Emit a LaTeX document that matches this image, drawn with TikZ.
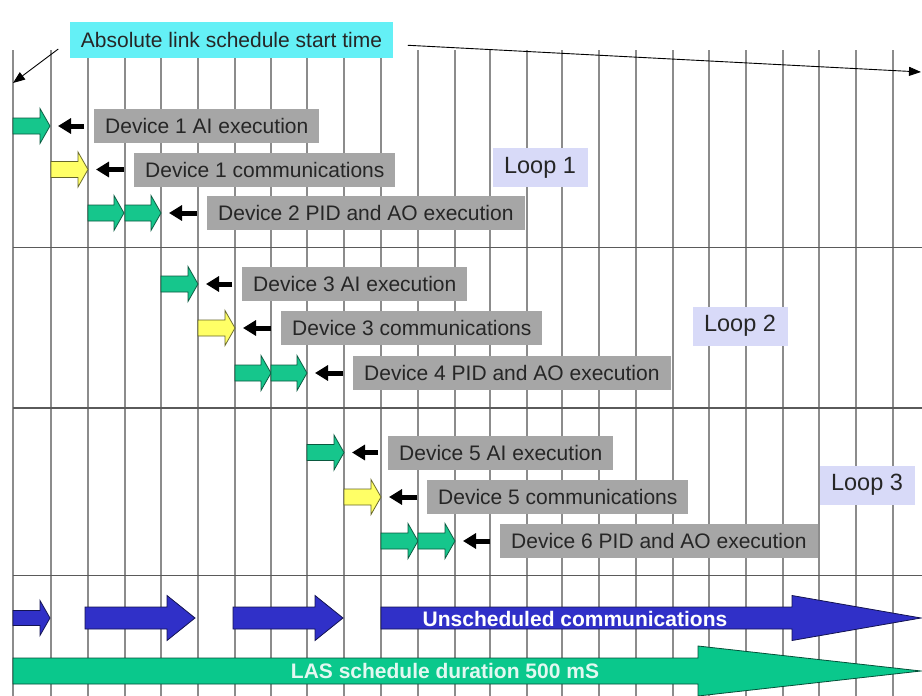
\documentclass[tikz,border=0pt]{standalone}
\usepackage{fontspec}
\setmainfont{Liberation Sans}
\usetikzlibrary{arrows.meta}
\definecolor{execgreen}{RGB}{22,198,140}
\definecolor{commyellow}{RGB}{255,255,102}
\definecolor{busblue}{RGB}{48,48,200}
\definecolor{lasgreen}{RGB}{10,200,140}
\definecolor{labelgray}{RGB}{166,166,166}
\definecolor{looplav}{RGB}{216,218,248}
\definecolor{titlecyan}{RGB}{100,240,246}
\definecolor{gridgray}{RGB}{140,140,140}
\definecolor{bandgray}{RGB}{90,90,90}
% small block arrow: style, tail x, tip x, y, name of tip
\newcommand\slotarrow[5]{%
  \filldraw[#1] (#2,#4-8) -- (#3-10,#4-8) -- (#3-10,#4-17.5) -- (#3,#4)
    -- (#3-10,#4+17.5) -- (#3-10,#4+8) -- (#2,#4+8) -- cycle;
  \coordinate (#5) at (#3,#4);}
% wide block arrow: style, tail x, head x, tip x, y, body half, head half
\newcommand\busarrow[7]{%
  \filldraw[#1] (#2,#5-#6) -- (#3,#5-#6) -- (#3,#5-#7) -- (#4,#5)
    -- (#3,#5+#7) -- (#3,#5+#6) -- (#2,#5+#6) -- cycle;}
\begin{document}
\begin{tikzpicture}[x=1pt,y=-1pt,
  font=\fontsize{21}{24}\selectfont,
  gridline/.style={draw=gridgray,line width=1.2pt},
  bandline/.style={draw=bandgray,line width=1.5pt},
  exec/.style={fill=execgreen,draw=execgreen!45!black,line width=0.8pt},
  comm/.style={fill=commyellow,draw=commyellow!40!black,line width=0.8pt},
  bus/.style={fill=busblue,draw=busblue!40!black,line width=0.8pt},
  las/.style={fill=lasgreen,draw=lasgreen!40!black,line width=0.8pt},
  tasklabel/.style={fill=labelgray,text=black!85,anchor=west,minimum height=34pt,inner xsep=11pt,inner ysep=0pt},
  loopbox/.style={fill=looplav,text=black!85,minimum width=95pt,minimum height=39pt,inner sep=0pt,font=\fontsize{23.5}{26}\selectfont},
  titlebox/.style={fill=titlecyan,text=black!85,minimum height=36pt,inner xsep=10.5pt,inner ysep=0pt},
  bustext/.style={text=white,inner sep=0pt,font=\fontsize{21}{24}\selectfont\bfseries},
  pointer/.style={-{Triangle[length=13pt,width=15pt]},line width=5pt,shorten <=10pt,shorten >=8pt},
  startline/.style={-{Triangle[length=12pt,width=9pt]},line width=0.9pt,shorten <=15pt}]
\useasboundingbox (0,0) rectangle (922,696);
% time slots
\draw[gridline] (13,50) -- (13,696) (51,50) -- (51,696) (88,50) -- (88,696) (125,50) -- (125,696)
  (161,50) -- (161,696) (198,50) -- (198,696) (235,50) -- (235,696) (271,50) -- (271,696)
  (307,50) -- (307,696) (344,50) -- (344,696) (381,50) -- (381,696) (418,50) -- (418,696)
  (455,50) -- (455,696) (490,50) -- (490,696) (527,50) -- (527,696) (562,50) -- (562,696)
  (599,50) -- (599,696) (636,50) -- (636,696) (673,50) -- (673,696) (709,50) -- (709,696)
  (746,50) -- (746,696) (783,50) -- (783,696) (819,50) -- (819,696) (856,50) -- (856,696)
  (893,50) -- (893,696);
\draw[bandline] (13,247.5) -- (922,247.5) (13,408) -- (922,408) (13,575.5) -- (922,575.5);
% start of the link schedule
\node[titlebox] (title) at (231.5,40) {Absolute link schedule start time};
\coordinate (t0) at (13,83);
\coordinate (tend) at (921,72);
\draw[startline] (title.west) -- (t0);
\draw[startline] ([yshift=-4.5pt]title.east) -- (tend);
% loop 1
\slotarrow{exec}{13}{50}{126}{ai1}
\slotarrow{comm}{51}{88}{169.5}{cm1}
\slotarrow{exec}{88}{124}{213}{pida2}
\slotarrow{exec}{125}{161}{213}{pid2}
\node[tasklabel] (lai1) at (94,126) {Device 1 AI execution};
\node[tasklabel] (lcm1) at (134,169.5) {Device 1 communications};
\node[tasklabel] (lpid2) at (207,213) {Device 2 PID and AO execution};
\draw[pointer] (lai1.west) -- (ai1);
\draw[pointer] (lcm1.west) -- (cm1);
\draw[pointer] (lpid2.west) -- (pid2);
\node[loopbox] (loop1) at (540,167.5) {Loop 1};
% loop 2
\slotarrow{exec}{161}{198}{284}{ai3}
\slotarrow{comm}{198}{235}{328}{cm3}
\slotarrow{exec}{235}{271}{373}{pida4}
\slotarrow{exec}{271}{307}{373}{pid4}
\node[tasklabel] (lai3) at (242,284) {Device 3 AI execution};
\node[tasklabel] (lcm3) at (281,328) {Device 3 communications};
\node[tasklabel] (lpid4) at (353,373) {Device 4 PID and AO execution};
\draw[pointer] (lai3.west) -- (ai3);
\draw[pointer] (lcm3.west) -- (cm3);
\draw[pointer] (lpid4.west) -- (pid4);
\node[loopbox] (loop2) at (740,326) {Loop 2};
% loop 3
\slotarrow{exec}{307}{344}{452.5}{ai5}
\slotarrow{comm}{344}{381}{497}{cm5}
\slotarrow{exec}{381}{418}{541}{pida6}
\slotarrow{exec}{418}{455}{541}{pid6}
\node[tasklabel] (lai5) at (388,452.5) {Device 5 AI execution};
\node[tasklabel] (lcm5) at (427,497) {Device 5 communications};
\node[tasklabel] (lpid6) at (500,541) {Device 6 PID and AO execution};
\draw[pointer] (lai5.west) -- (ai5);
\draw[pointer] (lcm5.west) -- (cm5);
\draw[pointer] (lpid6.west) -- (pid6);
\node[loopbox] (loop3) at (867,485) {Loop 3};
% unscheduled traffic and macrocycle
\busarrow{bus}{13}{40}{50}{618}{7.5}{17.5}
\busarrow{bus}{85}{167}{195}{618}{11}{22.5}
\busarrow{bus}{233}{315}{343}{618}{11}{22.5}
\busarrow{bus}{381}{792}{921}{618}{11}{22.5}
\node[bustext] (unsched) at (575,619) {Unscheduled communications};
\busarrow{las}{13}{698}{921}{671}{13}{25}
\node[bustext,text=white!88!lasgreen] (las) at (445,671) {LAS schedule duration 500 mS};
\end{tikzpicture}
\end{document}
